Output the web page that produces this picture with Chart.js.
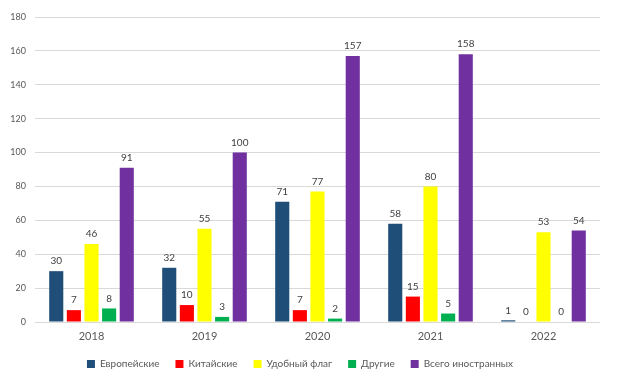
<!DOCTYPE html>
<html><head><meta charset="utf-8">
<script src="https://cdn.jsdelivr.net/npm/chart.js@4"></script>
<style>html,body{margin:0;padding:0;background:#fff;}canvas{display:block;}</style>
</head><body>
<canvas id="c" width="618" height="380"></canvas>
<script>
const categories = ["2018","2019","2020","2021","2022"];
const seriesNames = ["Европейские","Китайские","Удобный флаг","Другие","Всего иностранных"];
const european = [30,32,71,58,1];
const chinese = [7,10,7,15,0];
const flagOfConvenience = [46,55,77,80,53];
const others = [8,3,2,5,0];
const totalForeign = [91,100,157,158,54];
const colors = ["#1F4E79","#FF0000","#FFFF00","#00B050","#7030A0"];

const FONT = "Lato, 'Open Sans', sans-serif";
const labelPlugin = {
  id: "barLabels",
  afterDatasetsDraw(chart) {
    const ctx = chart.ctx;
    ctx.save();
    ctx.font = "10px " + FONT;
    ctx.fillStyle = "#404040";
    ctx.textAlign = "center";
    ctx.textBaseline = "bottom";
    chart.data.datasets.forEach((ds, i) => {
      const meta = chart.getDatasetMeta(i);
      meta.data.forEach((bar, j) => {
        ctx.fillText(String(ds.data[j]), bar.x, bar.y - 5);
      });
    });
    ctx.restore();
  }
};
const legendFitPlugin = {
  id: "legendFit",
  beforeUpdate(chart) {
    const lg = chart.legend;
    if (lg && !lg._fitPatched) {
      const orig = lg.fit;
      lg.fit = function () { orig.call(this); this.height = 37; };
      lg._fitPatched = true;
    }
  }
};

const values = [european, chinese, flagOfConvenience, others, totalForeign];
new Chart(document.getElementById("c"), {
  type: "bar",
  data: {
    labels: categories,
    datasets: seriesNames.map((n, i) => ({
      label: n,
      data: values[i],
      backgroundColor: colors[i],
      borderWidth: 0,
      categoryPercentage: 0.78,
      barPercentage: 0.8
    }))
  },
  options: {
    responsive: false,
    animation: false,
    layout: { padding: { top: 17, right: 18, bottom: 0, left: 0 } },
    plugins: {
      tooltip: { enabled: false },
      legend: {
        position: "bottom",
        labels: {
          boxWidth: 8, boxHeight: 8, padding: 16,
          color: "#595959",
          font: { family: FONT, size: 10 }
        }
      }
    },
    scales: {
      x: {
        grid: { display: false, drawTicks: false },
        border: { display: false },
        ticks: { color: "#595959", font: { family: FONT, size: 11 }, padding: 8 },
        afterFit(s) { s.height = 21; }
      },
      y: {
        min: 0, max: 180,
        ticks: { stepSize: 20, color: "#595959", font: { family: FONT, size: 9 }, padding: 9 },
        grid: { color: "#d9d9d9", drawTicks: false },
        border: { display: false },
        afterFit(s) { s.width = 35; }
      }
    }
  },
  plugins: [labelPlugin, legendFitPlugin]
});
</script>
</body></html>
